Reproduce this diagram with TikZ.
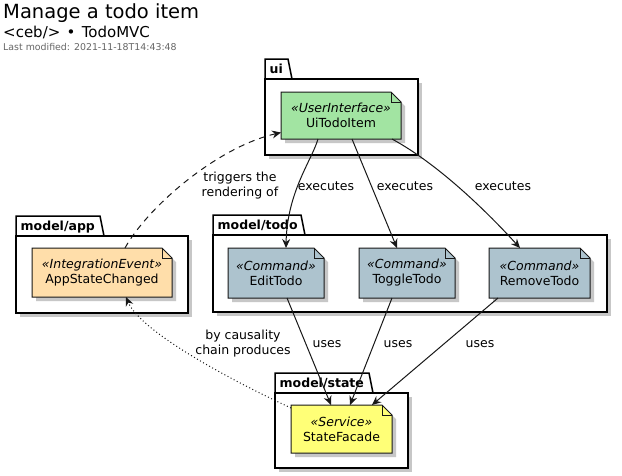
\documentclass[tikz,border=0pt]{standalone}
\usepackage{fontspec}
\setmainfont{DejaVu Sans}
\usetikzlibrary{arrows.meta}
\definecolor{uigreen}{HTML}{A2E4A2}
\definecolor{evorange}{HTML}{FFDEAA}
\definecolor{cmdblue}{HTML}{ADC3CE}
\definecolor{svcyellow}{HTML}{FFFF77}
\definecolor{ink}{HTML}{181818}
\tikzset{
  pkgline/.style={draw=black, line width=1.5pt},
  pkgshadow/.style={fill=black!22},
  noteline/.style={draw=ink, line width=1pt},
  noteshadow/.style={fill=black!22},
  notebox/.style={inner sep=0pt, outer sep=0pt, draw=none},
  notetext/.style={align=center, font=\fontsize{12.5pt}{15pt}\selectfont, text=black},
  pkglabel/.style={anchor=base west, inner sep=0pt, font=\fontsize{12.5pt}{15pt}\selectfont\bfseries},
  lbl/.style={align=center, inner sep=0pt, font=\fontsize{12.5pt}{15pt}\selectfont},
  conn/.style={draw=ink, line width=1pt, -{Stealth[length=9pt,width=8pt,inset=3pt]}},
  hdr/.style={anchor=base west, inner sep=0pt},
}
% name, x0, tabtop, tabright, bodytop, label, x1, y1
\newcommand\mkpkg[8]{%
  \fill[pkgshadow] (#2+4,#5+4) rectangle (#7+4,#8+4);
  \draw[pkgline,fill=white] (#2,#5) -- (#2,#3) -- (#4,#3) -- (#4+4,#5) -- cycle;
  \draw[pkgline,fill=white] (#2,#5) rectangle (#7,#8);
  \node[pkglabel] (#1) at (#2+4.5,#5-6) {#6};}
% name, cx, cy, w, h, fill, stereotype, label
\newcommand\mknote[8]{%
  \node[notebox, minimum width=#4pt, minimum height=#5pt] (#1) at (#2,#3) {};
  \fill[noteshadow] ([shift={(4pt,-4pt)}]#1.north west) -- ([shift={(-6pt,-4pt)}]#1.north east)
     -- ([shift={(4pt,-14pt)}]#1.north east) -- ([shift={(4pt,-4pt)}]#1.south east)
     -- ([shift={(4pt,-4pt)}]#1.south west) -- cycle;
  \draw[noteline, fill=#6] (#1.north west) -- ([xshift=-10pt]#1.north east)
     -- ([yshift=-10pt]#1.north east) -- (#1.south east) -- (#1.south west) -- cycle;
  \draw[noteline] ([xshift=-10pt]#1.north east) -- ([xshift=-10pt,yshift=-10pt]#1.north east)
     -- ([yshift=-10pt]#1.north east);
  \node[notetext] (#1-t) at (#1.center) {{\itshape «#7»}\\#8};}
\begin{document}
\begin{tikzpicture}[x=1pt,y=-1pt]
\fill[white] (0,0) rectangle (622,475);
\useasboundingbox (0,0) rectangle (622,475);

% header
\node[hdr] (title) at (3,18.5) {\fontsize{19.5pt}{23pt}\selectfont Manage a todo item};
\node[hdr] (subtitle) at (3,37) {\fontsize{15pt}{18pt}\selectfont <ceb/>\hspace{1.5pt} • \hspace{1.5pt}TodoMVC};
\node[hdr, text=black!60] (lastmod) at (3,50) {\fontsize{9.4pt}{11pt}\selectfont Last modified: 2021-11-18T14:43:48};

% packages
\mkpkg{pui}{265}{59}{288}{79}{ui}{418}{155}
\mkpkg{papp}{16}{216}{100}{236}{model/app}{188}{313}
\mkpkg{ptodo}{213}{215}{301}{235}{model/todo}{607}{312}
\mkpkg{pstate}{275}{373}{369}{393}{model/state}{408}{468}

% notes
\mknote{ui}{341}{115.5}{120}{47}{uigreen}{UserInterface}{UiTodoItem}
\mknote{app}{102}{272.5}{140}{49}{evorange}{IntegrationEvent}{AppStateChanged}
\mknote{edit}{276}{273}{96}{50}{cmdblue}{Command}{EditTodo}
\mknote{toggle}{407}{273}{96}{50}{cmdblue}{Command}{ToggleTodo}
\mknote{remove}{539.5}{273}{101}{50}{cmdblue}{Command}{RemoveTodo}
\mknote{state}{341.5}{429}{101}{48}{svcyellow}{Service}{StateFacade}

% connectors
\draw[conn] ([xshift=-23pt]ui.south) .. controls ([xshift=-29pt,yshift=-21pt]ui.south) and ([xshift=11pt,yshift=56pt]edit.north) .. ([xshift=10pt]edit.north);
\draw[conn] ([xshift=11pt]ui.south) -- ([xshift=-10pt]toggle.north);
\draw[conn] ([xshift=51pt]ui.south) .. controls ([xshift=99pt,yshift=-26pt]ui.south) and ([xshift=-49.5pt,yshift=33pt]remove.north) .. ([xshift=-19.5pt]remove.north);
\draw[conn, dash pattern=on 6pt off 5pt] ([xshift=23pt]app.north) .. controls ([xshift=45pt,yshift=40pt]app.north) and ([xshift=-65pt,yshift=-32pt]ui.west) .. ([yshift=-17pt]ui.west);

\draw[conn] ([xshift=11pt]edit.south) -- ([xshift=-10.5pt]state.north);
\draw[conn] ([xshift=-15pt]toggle.south) -- ([xshift=8.5pt]state.north);
\draw[conn] ([xshift=-41.5pt]remove.south) -- ([xshift=30.5pt]state.north);
\draw[conn, dash pattern=on 1pt off 2.5pt] ([yshift=21pt]state.west) .. controls ([xshift=-71pt,yshift=54pt]state.west) and ([xshift=38pt,yshift=-33pt]app.south) .. ([xshift=24pt]app.south);

% labels
\node[lbl] (l1) at (326,186) {executes};
\node[lbl] (l2) at (405,186) {executes};
\node[lbl] (l3) at (503,186) {executes};
\node[lbl] (l4) at (240,186) {triggers the\\rendering of};
\node[lbl] (l5) at (327,344) {uses};
\node[lbl] (l6) at (398,344) {uses};
\node[lbl] (l7) at (480,344) {uses};
\node[lbl] (l8) at (243,344) {by causality\\chain produces};
\end{tikzpicture}
\end{document}
